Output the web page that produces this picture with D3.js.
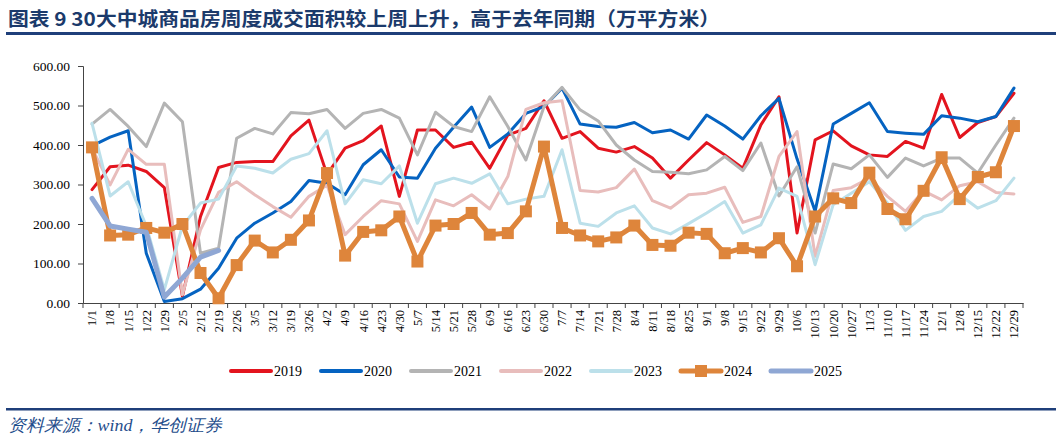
<!DOCTYPE html>
<html><head><meta charset="utf-8">
<script src="https://cdn.jsdelivr.net/npm/d3@7"></script>
<style>body{margin:0;background:#fff}svg{display:block}</style>
</head><body><svg id="c" width="1060" height="440"></svg>
<script>
const categories = ["1/1","1/8","1/15","1/22","1/29","2/5","2/12","2/19","2/26","3/5","3/12","3/19","3/26","4/2","4/9","4/16","4/23","4/30","5/7","5/14","5/21","5/28","6/9","6/16","6/23","6/30","7/7","7/14","7/21","7/28","8/4","8/11","8/18","8/25","9/1","9/8","9/15","9/22","9/29","10/6","10/13","10/20","10/27","11/3","11/10","11/17","11/24","12/1","12/8","12/15","12/22","12/29"];
const y2019 = [287,345,349,333,292,17,219,343,356,358,358,423,463,325,392,411,448,270,438,438,394,407,341,425,442,512,417,434,392,382,396,367,316,362,406,375,341,451,522,177,413,436,398,375,371,409,392,528,419,457,472,531];
const y2020 = [398,420,436,126,4,11,35,88,164,202,228,257,310,303,274,350,388,319,316,392,445,496,394,428,480,497,544,453,447,445,457,431,438,415,476,448,415,474,518,365,232,453,480,507,434,430,427,474,468,459,472,544];
const y2021 = [453,490,447,396,506,459,126,139,417,442,428,482,479,490,442,480,490,468,375,483,447,434,522,447,362,497,546,489,461,400,362,333,331,327,337,371,335,405,271,345,177,352,340,375,318,367,347,367,367,329,400,468];
const y2022 = [392,299,389,351,351,21,185,280,307,274,244,217,270,298,173,219,259,251,156,261,246,274,238,320,490,507,512,285,281,292,339,259,240,274,278,293,204,219,371,434,118,285,292,316,270,232,284,261,297,307,280,276];
const y2023 = [455,271,307,195,34,195,253,263,347,341,329,364,378,436,251,312,302,347,202,302,316,303,327,251,263,270,388,202,194,228,246,190,175,201,228,257,177,198,291,270,97,249,278,307,253,184,219,232,274,240,259,316];
const y2024 = [394,171,173,190,178,200,76,12,96,158,128,160,209,329,120,180,184,219,105,196,200,228,173,177,232,396,190,171,156,166,196,147,145,178,175,126,139,128,164,93,219,265,253,330,238,212,284,369,263,319,331,448];
const y2025 = [265,195,187,179,15,63,116,133];
const yTicks = [0,100,200,300,400,500,600];
const seriesNames = ["2019","2020","2021","2022","2023","2024","2025"];

const seriesStyle = {
  "2019":{color:"#E3141E",w:3},
  "2020":{color:"#0563C1",w:3},
  "2021":{color:"#B4B4B4",w:3},
  "2022":{color:"#E8BDBC",w:3},
  "2023":{color:"#BCE0EA",w:3},
  "2024":{color:"#DE853B",w:5,marker:true},
  "2025":{color:"#8FA7D4",w:5}
};
const seriesData = {"2019":y2019,"2020":y2020,"2021":y2021,"2022":y2022,"2023":y2023,"2024":y2024,"2025":y2025};

const svg = d3.select("#c");
const serif = "'Liberation Serif','Times New Roman',serif";

// Title
svg.append("text").attr("x",8).attr("y",26)
  .attr("font-family","'Noto Sans CJK SC',sans-serif").attr("font-weight","bold")
  .attr("font-size",19).attr("fill","#1B3A6B")
  .attr("textLength",712).attr("lengthAdjust","spacingAndGlyphs")
  .text("图表 9 30大中城商品房周度成交面积较上周上升，高于去年同期（万平方米）");
svg.append("rect").attr("x",6).attr("y",32).attr("width",1050).attr("height",3).attr("fill","#1F3F7A");

const x0 = 83, x1 = 1023, yTop = 66, yBot = 303;
const x = d3.scaleBand().domain(categories).range([x0,x1]);
const y = d3.scaleLinear().domain([0,600]).range([yBot,yTop]);

// Y axis
const yAxis = svg.append("g").attr("transform",`translate(${x0},0)`)
  .call(d3.axisLeft(y).tickValues(yTicks).tickFormat(d3.format(".2f")).tickSizeOuter(0).tickSize(5));
yAxis.selectAll("path,line").attr("stroke","#444");
yAxis.selectAll("text").attr("font-family",serif).attr("font-size",13.5).attr("fill","#000").attr("x",-13);

// X axis
const xAxis = svg.append("g").attr("transform",`translate(0,${yBot})`)
  .call(d3.axisBottom(x).tickSize(0).tickSizeOuter(0));
xAxis.select("path").attr("stroke","#444");
xAxis.selectAll(".tick line").remove();
xAxis.selectAll(".tick text").attr("font-family",serif).attr("font-size",12.5).attr("fill","#000")
  .attr("transform","rotate(-90)").attr("text-anchor","end").attr("dy","0.35em").attr("x",-7).attr("y",0);
const bounds = categories.map(c=>x(c)).concat([x1]);
svg.append("g").selectAll("line").data(bounds).join("line")
  .attr("x1",d=>d).attr("x2",d=>d).attr("y1",yBot).attr("y2",yBot+5).attr("stroke","#444");

// Lines
const line = d3.line().x((d,i)=>x(categories[i])+x.bandwidth()/2).y(d=>y(d));
seriesNames.forEach(n=>{
  const st = seriesStyle[n], data = seriesData[n];
  svg.append("path").datum(data).attr("d",line).attr("fill","none")
    .attr("stroke",st.color).attr("stroke-width",st.w).attr("stroke-linejoin","round").attr("stroke-linecap","round");
  if(st.marker){
    svg.append("g").selectAll("rect").data(data).join("rect")
      .attr("x",(d,i)=>x(categories[i])+x.bandwidth()/2-6).attr("y",d=>y(d)-6)
      .attr("width",12).attr("height",12).attr("fill",st.color);
  }
});

// Legend
const lg = svg.append("g");
seriesNames.forEach((n,i)=>{
  const st = seriesStyle[n];
  const lx = 231 + i*90, ly = 371;
  lg.append("line").attr("x1",lx).attr("x2",lx+40).attr("y1",ly).attr("y2",ly)
    .attr("stroke",st.color).attr("stroke-width",st.w>3?5:4).attr("stroke-linecap","round");
  if(st.marker) lg.append("rect").attr("x",lx+20-6).attr("y",ly-6).attr("width",12).attr("height",12).attr("fill",st.color);
  lg.append("text").attr("x",lx+43).attr("y",ly+5).attr("font-family",serif).attr("font-size",14).attr("fill","#000").text(n);
});

// Footer
svg.append("rect").attr("x",6).attr("y",408).attr("width",1050).attr("height",2.5).attr("fill","#1F3F7A");
svg.append("text").attr("x",8).attr("y",431).attr("font-family",serif).attr("font-style","italic")
  .attr("font-size",17).attr("fill","#1F4E8C")
  .attr("textLength",214).attr("lengthAdjust","spacingAndGlyphs")
  .text("资料来源：wind，华创证券");
</script></body></html>
